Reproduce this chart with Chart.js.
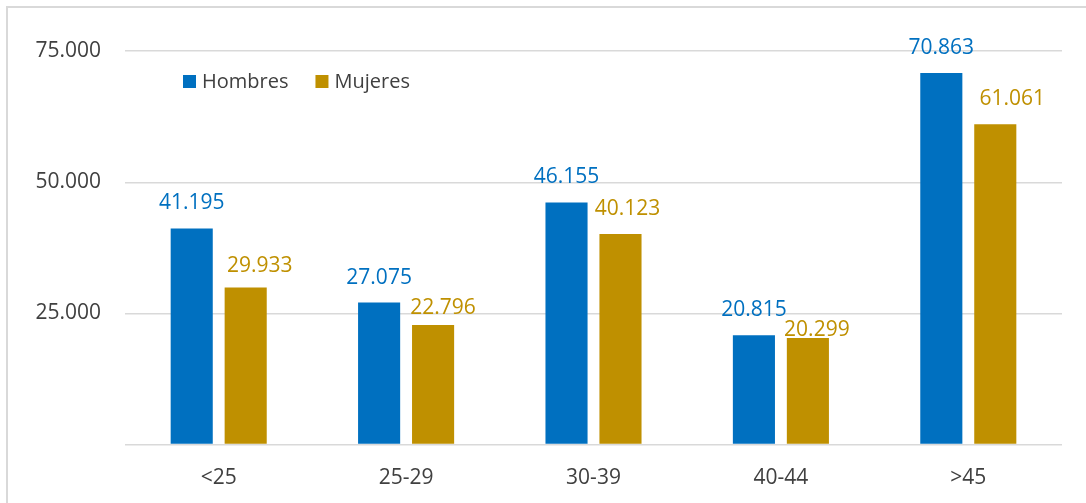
<!DOCTYPE html>
<html>
<head>
<meta charset="utf-8">
<script src="https://cdn.jsdelivr.net/npm/chart.js@4/dist/chart.umd.min.js"></script>
<style>
  html, body { margin: 0; padding: 0; background: #fff; }
  #wrap { position: relative; width: 1086px; height: 503px; overflow: hidden; }
  #frame { position: absolute; left: 6px; top: 6px; width: 1100px; height: 520px; border: 2px solid #d9d9d9; box-sizing: border-box; }
  #myChart { position: absolute; left: 0; top: 0; }
</style>
</head>
<body>
<div id="wrap">
  <div id="frame"></div>
  <canvas id="myChart" width="1086" height="503"></canvas>
</div>
<script>
'use strict';

    // data
    const categories = ['<25', '25-29', '30-39', '40-44', '>45'];
    const hombres = [41195, 27075, 46155, 20815, 70863];
    const mujeres = [29933, 22796, 40123, 20299, 61061];
    const yTickValues = [0, 25000, 50000, 75000];
    const seriesNames = ['Hombres', 'Mujeres'];

    // look
    const colors = ['#0070C0', '#BF9000'];
    const textColor = '#404040';
    const gridColor = '#d9d9d9';
    const fontFamily = '"Open Sans", "Noto Sans", sans-serif';
    // hand-moved value labels in the original (dx, dy per bar), only the Mujeres ones
    const labelShift = [
        [[0, 0], [0, 0], [0, 0], [0, 0], [0, 0]],
        [[14, 3], [10, 8], [7, 0], [9, 17], [17, 0]]
    ];

    function fmt(v) {
        return String(v).replace(/\B(?=(\d{3})+(?!\d))/g, '.');
    }

    const valueLabels = {
        id: 'valueLabels',
        afterDatasetsDraw(chart) {
            const ctx = chart.ctx;
            ctx.save();
            ctx.font = '21px ' + fontFamily;
            ctx.textAlign = 'center';
            ctx.textBaseline = 'alphabetic';
            chart.data.datasets.forEach(function (ds, i) {
                ctx.fillStyle = ds.backgroundColor;
                chart.getDatasetMeta(i).data.forEach(function (bar, j) {
                    const s = labelShift[i][j];
                    ctx.fillText(fmt(ds.data[j]), bar.x + s[0], bar.y - 19 + s[1]);
                });
            });
            ctx.restore();
        }
    };

    // legend sits inside the plot, top left
    const insideLegend = {
        id: 'insideLegend',
        afterDraw(chart) {
            const ctx = chart.ctx;
            const area = chart.chartArea;
            let x = area.left + 58;
            const y = area.top + 63;
            ctx.save();
            ctx.font = '20px ' + fontFamily;
            ctx.textBaseline = 'alphabetic';
            chart.data.datasets.forEach(function (ds) {
                ctx.fillStyle = ds.backgroundColor;
                ctx.fillRect(x, y - 13, 13, 13);
                ctx.fillStyle = textColor;
                ctx.fillText(ds.label, x + 19, y);
                x += 19 + ctx.measureText(ds.label).width + 27;
            });
            ctx.restore();
        }
    };

    const data = {
        labels: categories,
        datasets: [{
            label: seriesNames[0],
            data: hombres,
            backgroundColor: colors[0],
            categoryPercentage: 0.576,
            barPercentage: 0.78
        }, {
            label: seriesNames[1],
            data: mujeres,
            backgroundColor: colors[1],
            categoryPercentage: 0.576,
            barPercentage: 0.78
        }]
    };

    const options = {
        responsive: false,
        animation: false,
        layout: { padding: { top: 25, right: 24, left: 0, bottom: 0 } },
        plugins: {
            legend: { display: false },
            tooltip: { enabled: false }
        },
        scales: {
            x: {
                grid: { display: false },
                border: { display: false },
                ticks: { color: textColor, font: { family: fontFamily, size: 21 }, padding: 13 },
                afterFit: function (s) {
                    s.height = 58.5;
                    s.paddingLeft = 0;
                    s.paddingRight = 0;
                }
            },
            y: {
                min: 0,
                max: 80000,
                border: { display: false },
                grid: { color: gridColor, lineWidth: 1.5, drawTicks: false },
                ticks: {
                    color: textColor,
                    font: { family: fontFamily, size: 21 },
                    padding: 24,
                    callback: function (v) { return v === 0 ? '' : fmt(v); }
                },
                afterBuildTicks: function (s) {
                    s.ticks = yTickValues.map(function (v) { return { value: v }; });
                },
                afterFit: function (s) {
                    s.width = 125;
                    s.paddingTop = 0;
                    s.paddingBottom = 0;
                }
            }
        }
    };

    const myChart = new Chart(document.getElementById('myChart'), {
        type: 'bar',
        data: data,
        options: options,
        plugins: [valueLabels, insideLegend]
    });
</script>
</body>
</html>
